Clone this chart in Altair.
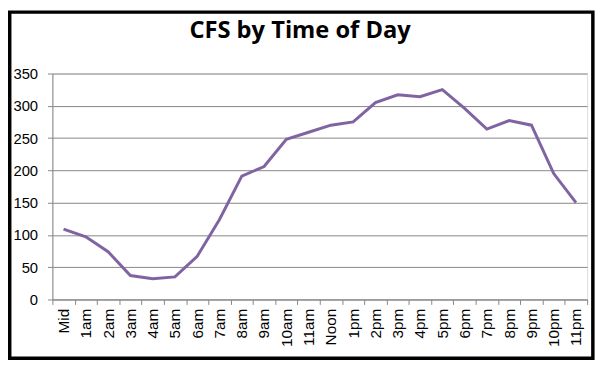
import altair as alt
import pandas as pd

hours = ["Mid", "1am", "2am", "3am", "4am", "5am", "6am", "7am", "8am", "9am",
         "10am", "11am", "Noon", "1pm", "2pm", "3pm", "4pm", "5pm", "6pm", "7pm",
         "8pm", "9pm", "10pm", "11pm"]
cfs = [109, 97, 74, 37, 32, 35, 67, 124, 191, 206,
       248, 259, 270, 275, 305, 317, 314, 325, 296, 264,
       277, 270, 195, 150]
y_ticks = [0, 50, 100, 150, 200, 250, 300, 350]

df = pd.DataFrame({"hour": hours, "cfs": cfs})

grey = "#868686"

line = alt.Chart(df).mark_line(color="#8064A2", strokeWidth=3).encode(
    x=alt.X("hour:N", sort=hours,
            scale=alt.Scale(type="band", paddingInner=0, paddingOuter=0),
            axis=alt.Axis(title=None, labelAngle=-90, tickBand="extent",
                          labelFont="Liberation Sans", labelFontSize=15.5,
                          labelColor="black", labelPadding=4,
                          domainColor=grey, tickColor=grey, tickSize=5,
                          grid=False, labelAlign="right", labelBaseline="middle")),
    y=alt.Y("cfs:Q", scale=alt.Scale(domain=[0, 350], nice=False),
            axis=alt.Axis(title=None, values=y_ticks, labelFont="Liberation Sans",
                          labelFontSize=15, labelColor="black", labelPadding=10,
                          domainColor=grey, tickColor=grey, tickSize=5,
                          gridColor=grey, gridWidth=1)),
)

frame = alt.Chart(pd.DataFrame({"a": [0]})).mark_rect(
    fillOpacity=0, stroke="black", strokeWidth=3.5
).encode(
    x=alt.value(-43.25), x2=alt.value(547.8),
    y=alt.value(-62.25), y2=alt.value(288.5),
)

chart = alt.layer(line, frame).properties(
    width=542, height=229,
    title=alt.TitleParams("CFS by Time of Day", font="Open Sans", fontSize=24,
                          fontWeight="bold", color="black", anchor="middle",
                          baseline="alphabetic", dx=-20, offset=0, dy=52),
    autosize=alt.AutoSizeParams(type="none"),
    padding={"left": 45, "top": 64, "right": 10, "bottom": 64},
).configure_view(stroke=None).configure(background="white")

chart.save("out.html", embed_options={"renderer": "svg", "actions": False})
